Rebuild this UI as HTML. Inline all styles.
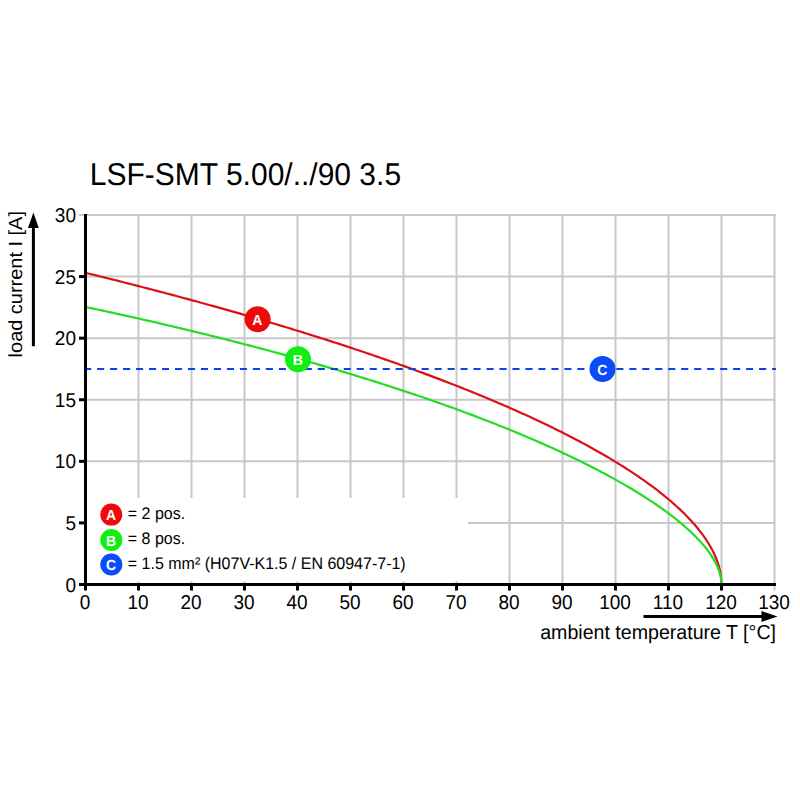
<!DOCTYPE html><html><head><meta charset="utf-8"><style>html,body{margin:0;padding:0;background:#fff;width:800px;height:800px;overflow:hidden}svg{display:block}text{font-family:"Liberation Sans",sans-serif;text-rendering:geometricPrecision}</style></head><body>
<svg width="800" height="800" viewBox="0 0 800 800">
<rect width="800" height="800" fill="#fff"/>
<text transform="translate(89.80,185.00) scale(1,1.05)" font-size="30" fill="#000">LSF-SMT 5.00/../90 3.5</text>
<line x1="138.50" y1="214" x2="138.50" y2="590.5" stroke="#c8c8c8" stroke-width="2"/>
<line x1="191.50" y1="214" x2="191.50" y2="590.5" stroke="#c8c8c8" stroke-width="2"/>
<line x1="244.50" y1="214" x2="244.50" y2="590.5" stroke="#c8c8c8" stroke-width="2"/>
<line x1="297.50" y1="214" x2="297.50" y2="590.5" stroke="#c8c8c8" stroke-width="2"/>
<line x1="350.50" y1="214" x2="350.50" y2="590.5" stroke="#c8c8c8" stroke-width="2"/>
<line x1="403.50" y1="214" x2="403.50" y2="590.5" stroke="#c8c8c8" stroke-width="2"/>
<line x1="456.50" y1="214" x2="456.50" y2="590.5" stroke="#c8c8c8" stroke-width="2"/>
<line x1="509.50" y1="214" x2="509.50" y2="590.5" stroke="#c8c8c8" stroke-width="2"/>
<line x1="562.50" y1="214" x2="562.50" y2="590.5" stroke="#c8c8c8" stroke-width="2"/>
<line x1="615.50" y1="214" x2="615.50" y2="590.5" stroke="#c8c8c8" stroke-width="2"/>
<line x1="668.50" y1="214" x2="668.50" y2="590.5" stroke="#c8c8c8" stroke-width="2"/>
<line x1="721.50" y1="214" x2="721.50" y2="590.5" stroke="#c8c8c8" stroke-width="2"/>
<line x1="774.50" y1="214" x2="774.50" y2="590.5" stroke="#c8c8c8" stroke-width="2"/>
<line x1="79" y1="522.91" x2="775.5" y2="522.91" stroke="#c8c8c8" stroke-width="2"/>
<line x1="79" y1="461.33" x2="775.5" y2="461.33" stroke="#c8c8c8" stroke-width="2"/>
<line x1="79" y1="399.75" x2="775.5" y2="399.75" stroke="#c8c8c8" stroke-width="2"/>
<line x1="79" y1="338.16" x2="775.5" y2="338.16" stroke="#c8c8c8" stroke-width="2"/>
<line x1="79" y1="276.57" x2="775.5" y2="276.57" stroke="#c8c8c8" stroke-width="2"/>
<line x1="79" y1="214.99" x2="775.5" y2="214.99" stroke="#c8c8c8" stroke-width="2"/>
<rect x="87" y="498" width="381" height="83.3" fill="#fff"/>
<polyline points="85.50,272.81 88.15,273.46 90.80,274.11 93.45,274.76 96.10,275.41 98.75,276.06 101.40,276.72 104.05,277.38 106.70,278.03 109.35,278.70 112.00,279.36 114.65,280.02 117.30,280.69 119.95,281.36 122.60,282.03 125.25,282.70 127.90,283.37 130.55,284.05 133.20,284.72 135.85,285.40 138.50,286.08 141.15,286.76 143.80,287.45 146.45,288.13 149.10,288.82 151.75,289.51 154.40,290.20 157.05,290.90 159.70,291.59 162.35,292.29 165.00,292.99 167.65,293.69 170.30,294.39 172.95,295.10 175.60,295.81 178.25,296.52 180.90,297.23 183.55,297.94 186.20,298.66 188.85,299.37 191.50,300.09 194.15,300.82 196.80,301.54 199.45,302.26 202.10,302.99 204.75,303.72 207.40,304.45 210.05,305.19 212.70,305.93 215.35,306.66 218.00,307.41 220.65,308.15 223.30,308.89 225.95,309.64 228.60,310.39 231.25,311.14 233.90,311.90 236.55,312.66 239.20,313.41 241.85,314.18 244.50,314.94 247.15,315.71 249.80,316.47 252.45,317.25 255.10,318.02 257.75,318.80 260.40,319.57 263.05,320.35 265.70,321.14 268.35,321.92 271.00,322.71 273.65,323.50 276.30,324.30 278.95,325.09 281.60,325.89 284.25,326.69 286.90,327.50 289.55,328.30 292.20,329.11 294.85,329.93 297.50,330.74 300.15,331.56 302.80,332.38 305.45,333.20 308.10,334.03 310.75,334.86 313.40,335.69 316.05,336.53 318.70,337.36 321.35,338.20 324.00,339.05 326.65,339.89 329.30,340.74 331.95,341.60 334.60,342.45 337.25,343.31 339.90,344.17 342.55,345.04 345.20,345.91 347.85,346.78 350.50,347.66 353.15,348.53 355.80,349.42 358.45,350.30 361.10,351.19 363.75,352.08 366.40,352.98 369.05,353.88 371.70,354.78 374.35,355.68 377.00,356.59 379.65,357.51 382.30,358.42 384.95,359.35 387.60,360.27 390.25,361.20 392.90,362.13 395.55,363.07 398.20,364.01 400.85,364.95 403.50,365.90 406.15,366.85 408.80,367.81 411.45,368.77 414.10,369.73 416.75,370.70 419.40,371.67 422.05,372.65 424.70,373.63 427.35,374.62 430.00,375.61 432.65,376.60 435.30,377.60 437.95,378.61 440.60,379.62 443.25,380.63 445.90,381.65 448.55,382.67 451.20,383.70 453.85,384.74 456.50,385.77 459.15,386.82 461.80,387.87 464.45,388.92 467.10,389.98 469.75,391.05 472.40,392.12 475.05,393.20 477.70,394.28 480.35,395.37 483.00,396.46 485.65,397.56 488.30,398.67 490.95,399.78 493.60,400.90 496.25,402.02 498.90,403.16 501.55,404.29 504.20,405.44 506.85,406.59 509.50,407.75 512.15,408.92 514.80,410.09 517.45,411.27 520.10,412.46 522.75,413.65 525.40,414.86 528.05,416.07 530.70,417.29 533.35,418.51 536.00,419.75 538.65,420.99 541.30,422.25 543.95,423.51 546.60,424.78 549.25,426.06 551.90,427.35 554.55,428.65 557.20,429.96 559.85,431.27 562.50,432.60 565.15,433.94 567.80,435.29 570.45,436.66 573.10,438.03 575.75,439.41 578.40,440.81 581.05,442.22 583.70,443.64 586.35,445.08 589.00,446.52 591.65,447.99 594.30,449.46 596.95,450.95 599.60,452.46 602.25,453.98 604.90,455.51 607.55,457.07 610.20,458.64 612.85,460.23 615.50,461.83 618.15,463.46 620.80,465.10 623.45,466.77 626.10,468.45 628.75,470.16 631.40,471.89 634.05,473.64 636.70,475.42 639.35,477.23 642.00,479.06 644.65,480.92 647.30,482.82 649.95,484.74 652.60,486.70 655.25,488.69 657.90,490.72 660.55,492.79 663.20,494.90 665.85,497.05 668.50,499.26 671.15,501.52 673.80,503.83 676.45,506.20 679.10,508.64 681.75,511.15 684.40,513.74 687.05,516.42 689.70,519.20 692.35,522.08 695.00,525.10 697.65,528.25 700.30,531.58 702.95,535.11 705.60,538.89 708.25,542.97 710.90,547.47 713.55,552.55 716.20,558.52 718.85,566.24 716.20,558.52 716.46,559.19 716.73,559.88 717.00,560.59 717.26,561.31 717.52,562.06 717.79,562.84 718.05,563.64 718.32,564.47 718.59,565.33 718.85,566.24 719.12,567.19 719.38,568.19 719.64,569.26 719.91,570.40 720.17,571.64 720.44,573.01 720.70,574.56 720.97,576.40 721.24,578.78 721.50,584.50" fill="none" stroke="#dc1019" stroke-width="2.2"/>
<polyline points="85.50,306.97 88.15,307.53 90.80,308.09 93.45,308.65 96.10,309.22 98.75,309.79 101.40,310.35 104.05,310.93 106.70,311.50 109.35,312.07 112.00,312.65 114.65,313.23 117.30,313.81 119.95,314.39 122.60,314.98 125.25,315.56 127.90,316.15 130.55,316.74 133.20,317.34 135.85,317.93 138.50,318.53 141.15,319.13 143.80,319.73 146.45,320.33 149.10,320.94 151.75,321.54 154.40,322.15 157.05,322.76 159.70,323.38 162.35,323.99 165.00,324.61 167.65,325.23 170.30,325.86 172.95,326.48 175.60,327.11 178.25,327.74 180.90,328.37 183.55,329.00 186.20,329.64 188.85,330.27 191.50,330.91 194.15,331.56 196.80,332.20 199.45,332.85 202.10,333.50 204.75,334.15 207.40,334.80 210.05,335.46 212.70,336.12 215.35,336.78 218.00,337.44 220.65,338.11 223.30,338.78 225.95,339.45 228.60,340.12 231.25,340.80 233.90,341.48 236.55,342.16 239.20,342.84 241.85,343.53 244.50,344.21 247.15,344.91 249.80,345.60 252.45,346.29 255.10,346.99 257.75,347.69 260.40,348.40 263.05,349.10 265.70,349.81 268.35,350.52 271.00,351.24 273.65,351.96 276.30,352.68 278.95,353.40 281.60,354.12 284.25,354.85 286.90,355.58 289.55,356.32 292.20,357.05 294.85,357.79 297.50,358.53 300.15,359.28 302.80,360.03 305.45,360.78 308.10,361.53 310.75,362.29 313.40,363.05 316.05,363.81 318.70,364.58 321.35,365.35 324.00,366.12 326.65,366.89 329.30,367.67 331.95,368.45 334.60,369.24 337.25,370.02 339.90,370.82 342.55,371.61 345.20,372.41 347.85,373.21 350.50,374.01 353.15,374.82 355.80,375.63 358.45,376.44 361.10,377.26 363.75,378.08 366.40,378.91 369.05,379.73 371.70,380.57 374.35,381.40 377.00,382.24 379.65,383.08 382.30,383.93 384.95,384.78 387.60,385.63 390.25,386.49 392.90,387.35 395.55,388.21 398.20,389.08 400.85,389.96 403.50,390.83 406.15,391.71 408.80,392.60 411.45,393.49 414.10,394.38 416.75,395.28 419.40,396.18 422.05,397.08 424.70,397.99 427.35,398.91 430.00,399.82 432.65,400.75 435.30,401.67 437.95,402.60 440.60,403.54 443.25,404.48 445.90,405.43 448.55,406.38 451.20,407.33 453.85,408.29 456.50,409.26 459.15,410.23 461.80,411.20 464.45,412.18 467.10,413.16 469.75,414.15 472.40,415.15 475.05,416.15 477.70,417.16 480.35,418.17 483.00,419.18 485.65,420.21 488.30,421.23 490.95,422.27 493.60,423.31 496.25,424.35 498.90,425.40 501.55,426.46 504.20,427.53 506.85,428.60 509.50,429.67 512.15,430.76 514.80,431.85 517.45,432.94 520.10,434.04 522.75,435.15 525.40,436.27 528.05,437.40 530.70,438.53 533.35,439.67 536.00,440.81 538.65,441.97 541.30,443.13 543.95,444.30 546.60,445.47 549.25,446.66 551.90,447.86 554.55,449.06 557.20,450.27 559.85,451.49 562.50,452.72 565.15,453.96 567.80,455.21 570.45,456.47 573.10,457.73 575.75,459.01 578.40,460.30 581.05,461.60 583.70,462.91 586.35,464.23 589.00,465.57 591.65,466.91 594.30,468.27 596.95,469.64 599.60,471.02 602.25,472.42 604.90,473.83 607.55,475.25 610.20,476.69 612.85,478.14 615.50,479.61 618.15,481.09 620.80,482.59 623.45,484.11 626.10,485.65 628.75,487.20 631.40,488.77 634.05,490.36 636.70,491.98 639.35,493.61 642.00,495.27 644.65,496.95 647.30,498.66 649.95,500.39 652.60,502.15 655.25,503.94 657.90,505.75 660.55,507.60 663.20,509.49 665.85,511.41 668.50,513.37 671.15,515.37 673.80,517.42 676.45,519.51 679.10,521.66 681.75,523.87 684.40,526.13 687.05,528.47 689.70,530.89 692.35,533.39 695.00,535.99 697.65,538.70 700.30,541.55 702.95,544.55 705.60,547.74 708.25,551.18 710.90,554.93 713.55,559.13 716.20,564.02 718.85,570.24 716.20,564.02 716.46,564.57 716.73,565.12 717.00,565.70 717.26,566.28 717.52,566.89 717.79,567.51 718.05,568.16 718.32,568.82 718.59,569.52 718.85,570.24 719.12,571.00 719.38,571.80 719.64,572.64 719.91,573.55 720.17,574.53 720.44,575.61 720.70,576.83 720.97,578.26 721.24,580.11 721.50,584.50" fill="none" stroke="#22dd22" stroke-width="2.2"/>
<line x1="84.12" y1="369" x2="776" y2="369" stroke="#0a44e8" stroke-width="2.2" stroke-dasharray="7.1 5.88"/>
<line x1="85.5" y1="214" x2="85.5" y2="586" stroke="#000" stroke-width="3"/>
<line x1="79" y1="584.5" x2="776" y2="584.5" stroke="#000" stroke-width="3"/>
<line x1="85.50" y1="584" x2="85.50" y2="590.5" stroke="#000" stroke-width="3"/>
<line x1="138.50" y1="584" x2="138.50" y2="590.5" stroke="#000" stroke-width="3"/>
<line x1="191.50" y1="584" x2="191.50" y2="590.5" stroke="#000" stroke-width="3"/>
<line x1="244.50" y1="584" x2="244.50" y2="590.5" stroke="#000" stroke-width="3"/>
<line x1="297.50" y1="584" x2="297.50" y2="590.5" stroke="#000" stroke-width="3"/>
<line x1="350.50" y1="584" x2="350.50" y2="590.5" stroke="#000" stroke-width="3"/>
<line x1="403.50" y1="584" x2="403.50" y2="590.5" stroke="#000" stroke-width="3"/>
<line x1="456.50" y1="584" x2="456.50" y2="590.5" stroke="#000" stroke-width="3"/>
<line x1="509.50" y1="584" x2="509.50" y2="590.5" stroke="#000" stroke-width="3"/>
<line x1="562.50" y1="584" x2="562.50" y2="590.5" stroke="#000" stroke-width="3"/>
<line x1="615.50" y1="584" x2="615.50" y2="590.5" stroke="#000" stroke-width="3"/>
<line x1="668.50" y1="584" x2="668.50" y2="590.5" stroke="#000" stroke-width="3"/>
<line x1="721.50" y1="584" x2="721.50" y2="590.5" stroke="#000" stroke-width="3"/>
<line x1="79" y1="584.50" x2="86" y2="584.50" stroke="#000" stroke-width="3"/>
<line x1="79" y1="522.91" x2="86" y2="522.91" stroke="#000" stroke-width="3"/>
<line x1="79" y1="461.33" x2="86" y2="461.33" stroke="#000" stroke-width="3"/>
<line x1="79" y1="399.75" x2="86" y2="399.75" stroke="#000" stroke-width="3"/>
<line x1="79" y1="338.16" x2="86" y2="338.16" stroke="#000" stroke-width="3"/>
<line x1="79" y1="276.57" x2="86" y2="276.57" stroke="#000" stroke-width="3"/>
<text transform="translate(85.00,608.80) scale(1,1.05)" font-size="19" text-anchor="middle" fill="#000">0</text>
<text transform="translate(138.00,608.80) scale(1,1.05)" font-size="19" text-anchor="middle" fill="#000">10</text>
<text transform="translate(191.00,608.80) scale(1,1.05)" font-size="19" text-anchor="middle" fill="#000">20</text>
<text transform="translate(244.00,608.80) scale(1,1.05)" font-size="19" text-anchor="middle" fill="#000">30</text>
<text transform="translate(297.00,608.80) scale(1,1.05)" font-size="19" text-anchor="middle" fill="#000">40</text>
<text transform="translate(350.00,608.80) scale(1,1.05)" font-size="19" text-anchor="middle" fill="#000">50</text>
<text transform="translate(403.00,608.80) scale(1,1.05)" font-size="19" text-anchor="middle" fill="#000">60</text>
<text transform="translate(456.00,608.80) scale(1,1.05)" font-size="19" text-anchor="middle" fill="#000">70</text>
<text transform="translate(509.00,608.80) scale(1,1.05)" font-size="19" text-anchor="middle" fill="#000">80</text>
<text transform="translate(562.00,608.80) scale(1,1.05)" font-size="19" text-anchor="middle" fill="#000">90</text>
<text transform="translate(615.00,608.80) scale(1,1.05)" font-size="19" text-anchor="middle" fill="#000">100</text>
<text transform="translate(668.00,608.80) scale(1,1.05)" font-size="19" text-anchor="middle" fill="#000">110</text>
<text transform="translate(721.00,608.80) scale(1,1.05)" font-size="19" text-anchor="middle" fill="#000">120</text>
<text transform="translate(774.00,608.80) scale(1,1.05)" font-size="19" text-anchor="middle" fill="#000">130</text>
<text transform="translate(76.00,591.60) scale(1,1.05)" font-size="19" text-anchor="end" fill="#000">0</text>
<text transform="translate(76.00,530.01) scale(1,1.05)" font-size="19" text-anchor="end" fill="#000">5</text>
<text transform="translate(76.00,468.43) scale(1,1.05)" font-size="19" text-anchor="end" fill="#000">10</text>
<text transform="translate(76.00,406.85) scale(1,1.05)" font-size="19" text-anchor="end" fill="#000">15</text>
<text transform="translate(76.00,345.26) scale(1,1.05)" font-size="19" text-anchor="end" fill="#000">20</text>
<text transform="translate(76.00,283.68) scale(1,1.05)" font-size="19" text-anchor="end" fill="#000">25</text>
<text transform="translate(76.00,222.09) scale(1,1.05)" font-size="19" text-anchor="end" fill="#000">30</text>
<circle cx="257.6" cy="319.2" r="13" fill="#ee0a0a"/><text transform="translate(257.30,324.84) scale(1,1.05)" font-size="14" text-anchor="middle" fill="#fff" font-weight="bold">A</text>
<circle cx="298" cy="359.3" r="13" fill="#10ee14"/><text transform="translate(297.70,364.94) scale(1,1.05)" font-size="14" text-anchor="middle" fill="#fff" font-weight="bold">B</text>
<circle cx="602.5" cy="369" r="13" fill="#0a4cf8"/><text transform="translate(602.20,374.64) scale(1,1.05)" font-size="14" text-anchor="middle" fill="#fff" font-weight="bold">C</text>
<circle cx="111.3" cy="514.6" r="11" fill="#ee0a0a"/><text transform="translate(111.00,520.24) scale(1,1.05)" font-size="14" text-anchor="middle" fill="#fff" font-weight="bold">A</text>
<circle cx="111.3" cy="540" r="11" fill="#10ee14"/><text transform="translate(111.00,545.64) scale(1,1.05)" font-size="14" text-anchor="middle" fill="#fff" font-weight="bold">B</text>
<circle cx="111.3" cy="564.5" r="11" fill="#0a4cf8"/><text transform="translate(111.00,570.14) scale(1,1.05)" font-size="14" text-anchor="middle" fill="#fff" font-weight="bold">C</text>
<text transform="translate(127.80,518.80) scale(1,1.05)" font-size="16" fill="#000">= 2 pos.</text>
<text transform="translate(127.80,544.30) scale(1,1.05)" font-size="16" fill="#000">= 8 pos.</text>
<text transform="translate(127.80,568.80) scale(1,1.05)" font-size="16" fill="#000">= 1.5 mm² (H07V-K1.5 / EN 60947-7-1)</text>
<text transform="translate(21.5,357.4) rotate(-90) scale(1.05,1)" x="0" y="0" font-size="19" fill="#000">load current I [A]</text>
<line x1="33.4" y1="346.2" x2="33.4" y2="226" stroke="#000" stroke-width="3"/>
<polygon points="33.4,212.5 28,228 38.8,228" fill="#000"/>
<line x1="643.5" y1="616.5" x2="763" y2="616.5" stroke="#000" stroke-width="3"/>
<polygon points="777.5,616.5 761.5,611 761.5,622" fill="#000"/>
<text transform="translate(776.00,639.30) scale(1,1.03)" font-size="19.6" text-anchor="end" fill="#000">ambient temperature T [°C]</text>
</svg></body></html>
